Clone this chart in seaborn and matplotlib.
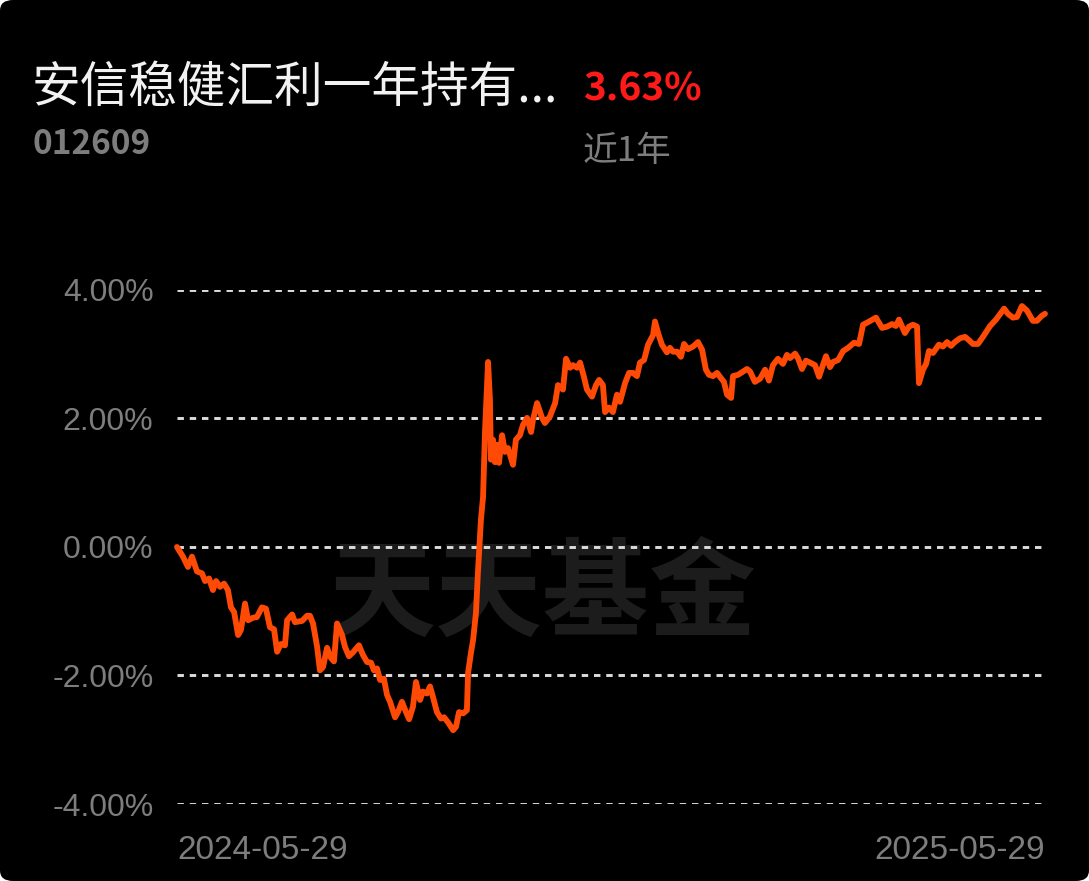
import matplotlib.pyplot as plt
from matplotlib.patches import FancyBboxPatch
import numpy as np
import pandas as pd
import seaborn as sns

# ---------------- DATA ----------------
fund_name = "安信稳健汇利一年持有..."
fund_code = "012609"
period_return = "3.63%"
period_label = "近1年"
watermark = "天天基金"
start_date = "2024-05-29"
end_date = "2025-05-29"
y_ticks = [-4, -2, 0, 2, 4]

# days since start date
day_offsets = [
    0.0, 2.5, 4.6, 6.3, 8.4, 10.5, 11.8, 13.5, 15.1, 16.4,
    18.1, 19.8, 21.4, 22.7, 24.0, 25.7, 26.9, 28.6, 29.9, 32.0,
    33.6, 35.7, 37.4, 39.1, 40.8, 42.1, 43.7, 45.4, 46.3, 48.4,
    49.6, 52.6, 54.7, 55.9, 57.2, 58.9, 60.1, 61.4, 63.1, 64.8,
    66.0, 67.3, 69.4, 70.6, 72.3, 74.0, 76.5, 78.2, 79.9, 81.6,
    82.8, 84.1, 85.4, 87.0, 88.3, 89.6, 91.7, 92.9, 94.6, 96.3,
    97.6, 99.2, 100.5, 102.2, 103.4, 105.1, 106.4, 107.6, 109.3, 111.0,
    112.3, 114.0, 116.1, 117.3, 118.6, 120.3, 121.9, 122.4, 123.6, 124.5,
    125.7, 126.6, 127.8, 128.7, 129.5, 130.8, 131.6, 132.0, 132.9, 133.7,
    134.6, 135.4, 136.7, 137.9, 139.2, 141.3, 142.5, 144.2, 145.5, 147.2,
    148.9, 149.7, 151.4, 153.5, 154.7, 156.8, 159.0, 160.2, 162.3, 163.6,
    165.3, 166.5, 168.2, 169.5, 171.1, 172.4, 174.5, 176.2, 177.5, 179.1,
    180.0, 181.7, 183.3, 185.0, 186.3, 188.4, 190.1, 191.7, 193.4, 194.7,
    196.4, 198.1, 200.2, 201.0, 202.3, 203.9, 206.0, 207.3, 208.6, 210.3,
    211.9, 213.2, 214.9, 217.0, 219.1, 220.8, 222.4, 223.7, 225.4, 227.1,
    228.3, 230.0, 231.3, 233.0, 233.8, 235.9, 239.7, 241.0, 243.0, 245.2,
    247.3, 248.9, 250.6, 252.7, 254.8, 256.5, 257.8, 259.9, 261.1, 262.8,
    264.5, 266.2, 268.3, 270.0, 271.6, 272.9, 274.6, 275.9, 278.0, 280.1,
    282.2, 284.7, 286.8, 288.5, 290.6, 293.9, 296.5, 298.6, 300.7, 302.3,
    303.6, 306.1, 307.8, 309.5, 311.2, 312.0, 313.7, 315.0, 316.2, 317.9,
    320.4, 322.1, 323.8, 325.5, 327.1, 329.3, 331.4, 333.0, 334.7, 336.8,
    338.9, 341.9, 344.4, 347.8, 349.4, 351.5, 353.2, 355.3, 357.4, 359.9,
    361.6, 363.7, 365.0,
]

# cumulative return, %
returns_pct = [
    0.00, -0.15, -0.31, -0.15, -0.38, -0.41, -0.53, -0.49, -0.67, -0.53,
    -0.62, -0.57, -0.67, -0.94, -1.01, -1.37, -1.29, -0.88, -1.14, -1.10,
    -1.09, -0.94, -0.96, -1.25, -1.28, -1.63, -1.51, -1.53, -1.14, -1.05,
    -1.17, -1.15, -1.07, -1.07, -1.19, -1.55, -1.92, -1.87, -1.57, -1.73,
    -1.78, -1.19, -1.37, -1.55, -1.70, -1.64, -1.53, -1.68, -1.79, -1.80,
    -1.92, -1.89, -2.07, -2.05, -2.30, -2.41, -2.65, -2.57, -2.41, -2.57,
    -2.68, -2.49, -2.10, -2.38, -2.25, -2.28, -2.17, -2.33, -2.57, -2.67,
    -2.65, -2.73, -2.85, -2.80, -2.57, -2.59, -2.54, -1.96, -1.65, -1.45,
    -1.03, -0.36, 0.42, 0.78, 1.78, 2.88, 2.29, 1.36, 1.67, 1.32,
    1.59, 1.31, 1.74, 1.48, 1.54, 1.28, 1.67, 1.74, 1.90, 2.01,
    1.79, 1.98, 2.24, 2.01, 1.93, 2.03, 2.24, 2.52, 2.45, 2.93,
    2.79, 2.83, 2.79, 2.87, 2.65, 2.45, 2.34, 2.52, 2.60, 2.52,
    2.10, 2.17, 2.10, 2.37, 2.26, 2.55, 2.71, 2.71, 2.66, 2.87,
    2.91, 3.15, 3.30, 3.51, 3.33, 3.15, 3.03, 3.10, 3.04, 3.04,
    2.96, 3.16, 3.08, 3.12, 3.19, 3.07, 2.76, 2.68, 2.66, 2.71,
    2.65, 2.57, 2.37, 2.32, 2.66, 2.68, 2.77, 2.73, 2.57, 2.62,
    2.76, 2.59, 2.83, 2.93, 2.85, 2.99, 2.94, 3.01, 2.94, 2.77,
    2.90, 2.87, 2.83, 2.65, 2.83, 2.97, 2.80, 2.88, 2.91, 3.05,
    3.10, 3.18, 3.16, 3.46, 3.50, 3.57, 3.41, 3.43, 3.47, 3.44,
    3.54, 3.33, 3.43, 3.46, 3.43, 2.55, 2.76, 2.85, 3.05, 3.02,
    3.15, 3.12, 3.19, 3.13, 3.19, 3.25, 3.27, 3.22, 3.16, 3.16,
    3.27, 3.44, 3.54, 3.71, 3.63, 3.57, 3.58, 3.75, 3.68, 3.52,
    3.52, 3.60, 3.63,
]


def main():
    sns.set_theme(style="dark")
    plt.rcParams["font.family"] = ["Noto Sans CJK SC", "DejaVu Sans"]

    df = pd.DataFrame({
        "date": pd.Timestamp(start_date) + pd.to_timedelta(day_offsets, unit="D"),
        "ret": returns_pct,
    })

    W, H = 1089, 881
    fig = plt.figure(figsize=(W / 100, H / 100), dpi=100)
    fig.patch.set_facecolor("white")
    fig.patches.append(FancyBboxPatch(
        (0, 0), 1, 1, boxstyle="round,pad=0,rounding_size=0.012",
        transform=fig.transFigure, facecolor="black", edgecolor="none", zorder=-10))

    ax = fig.add_axes([177 / W, 1 - 804 / H, (1045 - 177) / W, (804 - 290) / H])
    ax.set_facecolor("none")

    # watermark
    ax.text(0.422, 0.403, watermark, transform=ax.transAxes, ha="center", va="center",
            fontsize=77, fontweight="bold", color="#1c1c1c", zorder=0)

    sns.lineplot(data=df, x="date", y="ret", ax=ax, color="#ff4a05", linewidth=4.2,
                 zorder=3, solid_joinstyle="round", solid_capstyle="round")
    for ln in ax.lines:
        ln.set_clip_on(False)

    ax.set_ylim(-4, 4)
    ax.set_xlim(pd.Timestamp(start_date), pd.Timestamp(end_date))
    for y in y_ticks:
        ax.axhline(y, color="#dcdcdc", linewidth=2.1, linestyle=(0, (2.2, 2.0)), zorder=2)

    ax.set_yticks(y_ticks)
    ax.set_yticklabels([f"{v:.2f}%" for v in y_ticks], family=["Liberation Sans", "DejaVu Sans"],
                       fontsize=23, color="#7d7d7d")
    ax.set_xticks([pd.Timestamp(start_date), pd.Timestamp(end_date)])
    ax.set_xticklabels([start_date, end_date], family=["Liberation Sans", "DejaVu Sans"],
                       fontsize=24, color="#7d7d7d")
    xl = ax.get_xticklabels()
    xl[0].set_ha("left")
    xl[1].set_ha("right")
    ax.tick_params(axis="y", length=0, pad=17)
    ax.tick_params(axis="x", length=0, pad=22)
    ax.grid(False)
    ax.set_xlabel("")
    ax.set_ylabel("")
    for s in ax.spines.values():
        s.set_visible(False)

    # header texts
    fig.text(32 / W, 1 - 88 / H, fund_name, ha="left", va="center", fontsize=35, color="#f2f2f2")
    fig.text(583 / W, 1 - 89 / H, period_return, ha="left", va="center", fontsize=28,
             fontweight="bold", color="#ff1a1a")
    fig.text(32 / W, 1 - 144 / H, fund_code, ha="left", va="center", fontsize=24,
             fontweight="bold", color="#7d7d7d")
    fig.text(583 / W, 1 - 151 / H, period_label, ha="left", va="center", fontsize=25, color="#7d7d7d")

    fig.savefig("out.png", dpi=100, facecolor=fig.get_facecolor())


if __name__ == "__main__":
    main()
